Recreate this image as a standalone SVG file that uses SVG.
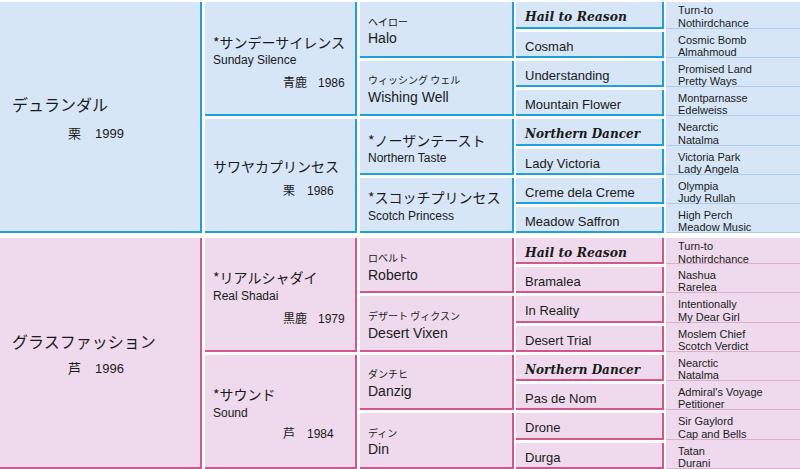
<svg xmlns="http://www.w3.org/2000/svg" width="800" height="469" viewBox="0 0 800 469">
<style>
.bf{fill:#d6e6f6}
.pf{fill:#eedaec}
.bb{fill:none;stroke:#1e9fe0;stroke-width:2}
.pb{fill:none;stroke:#d4568f;stroke-width:2}
.bs{stroke:#a9cdea;stroke-width:1}
.ps{stroke:#dbb0cc;stroke-width:1}
text{fill:#1a1a1a}
.jp{font-family:"Noto Sans CJK JP",sans-serif}
.en{font-family:"Liberation Sans",Arial,sans-serif}
.bi{font-family:"DejaVu Serif","Liberation Serif",serif;font-weight:bold;font-style:italic;font-size:13px}
.c1{font-size:16px}
.yr1{font-size:13px}
.c2{font-size:14px}
.c2e{font-size:12px}
.yr{font-size:12px}
.rd{font-size:10px}
.c3{font-size:14px}
.c4{font-size:13px}
.c5{font-size:11px}
</style>
<rect width="800" height="469" fill="#ffffff"/>

<!-- generation 1 -->
<g id="n-durandal">
<rect class="bf" x="0" y="2" width="202" height="231"/><path class="bb" d="M0 232H201V2"/>
<text class="jp c1" x="12" y="111">デュランダル</text>
<text class="jp yr1" x="68" y="138">栗<tspan class="en" x="95">1999</tspan></text>
</g>
<g id="n-grassfashion">
<rect class="pf" x="0" y="238" width="202" height="231"/><path class="pb" d="M0 468H201V238"/>
<text class="jp c1" x="12" y="348">グラスファッション</text>
<text class="jp yr1" x="68" y="373">芦<tspan class="en" x="95">1996</tspan></text>
</g>

<!-- generation 2 -->
<g id="n-sundaysilence">
<rect class="bf" x="205" y="2" width="152" height="114"/><path class="bb" d="M205 115H356V2"/>
<text class="jp c2" x="213" y="48">*サンデーサイレンス</text>
<text class="en c2e" x="213" y="64">Sunday Silence</text>
<text class="jp yr" x="283" y="87">青鹿<tspan class="en" x="318">1986</tspan></text>
</g>
<g id="n-sawayakaprincess">
<rect class="bf" x="205" y="119" width="152" height="114"/><path class="bb" d="M205 232H356V119"/>
<text class="jp c2" x="213" y="172">サワヤカプリンセス</text>
<text class="jp yr" x="283" y="195">栗<tspan class="en" x="307">1986</tspan></text>
</g>
<g id="n-realshadai">
<rect class="pf" x="205" y="238" width="152" height="114"/><path class="pb" d="M205 351H356V238"/>
<text class="jp c2" x="213" y="283">*リアルシャダイ</text>
<text class="en c2e" x="213" y="300">Real Shadai</text>
<text class="jp yr" x="283" y="323">黒鹿<tspan class="en" x="318">1979</tspan></text>
</g>
<g id="n-sound">
<rect class="pf" x="205" y="355" width="152" height="114"/><path class="pb" d="M205 468H356V355"/>
<text class="jp c2" x="213" y="400">*サウンド</text>
<text class="en c2e" x="213" y="417">Sound</text>
<text class="jp yr" x="283" y="438">芦<tspan class="en" x="307">1984</tspan></text>
</g>

<!-- generation 3 -->
<g id="n-halo">
<rect class="bf" x="360" y="2" width="154" height="56"/><path class="bb" d="M360 57H513V2"/>
<text class="jp rd" x="368" y="26">ヘイロー</text>
<text class="en c3" x="368" y="43">Halo</text>
</g>
<g id="n-wishingwell">
<rect class="bf" x="360" y="61" width="154" height="55"/><path class="bb" d="M360 115H513V61"/>
<text class="jp rd" x="368" y="84">ウィッシング ウェル</text>
<text class="en c3" x="368" y="102">Wishing Well</text>
</g>
<g id="n-northerntaste">
<rect class="bf" x="360" y="119" width="154" height="56"/><path class="bb" d="M360 174H513V119"/>
<text class="jp c3" x="368" y="146">*ノーザンテースト</text>
<text class="en c2e" x="368" y="162">Northern Taste</text>
</g>
<g id="n-scotchprincess">
<rect class="bf" x="360" y="178" width="154" height="55"/><path class="bb" d="M360 232H513V178"/>
<text class="jp c3" x="368" y="203">*スコッチプリンセス</text>
<text class="en c2e" x="368" y="220">Scotch Princess</text>
</g>
<g id="n-roberto">
<rect class="pf" x="360" y="238" width="154" height="55"/><path class="pb" d="M360 292H513V238"/>
<text class="jp rd" x="368" y="262">ロベルト</text>
<text class="en c3" x="368" y="280">Roberto</text>
</g>
<g id="n-desertvixen">
<rect class="pf" x="360" y="296" width="154" height="56"/><path class="pb" d="M360 351H513V296"/>
<text class="jp rd" x="368" y="320">デザート ヴィクスン</text>
<text class="en c3" x="368" y="338">Desert Vixen</text>
</g>
<g id="n-danzig">
<rect class="pf" x="360" y="355" width="154" height="55"/><path class="pb" d="M360 409H513V355"/>
<text class="jp rd" x="368" y="378">ダンチヒ</text>
<text class="en c3" x="368" y="396">Danzig</text>
</g>
<g id="n-din">
<rect class="pf" x="360" y="413" width="154" height="56"/><path class="pb" d="M360 468H513V413"/>
<text class="jp rd" x="368" y="437">ディン</text>
<text class="en c3" x="368" y="454">Din</text>
</g>

<!-- generation 4 -->
<g id="n-hailtoreason-1"><rect class="bf" x="516" y="2" width="148" height="27"/><path class="bb" d="M516 28H663V2"/><text class="bi" x="525" y="20.5" textLength="102" lengthAdjust="spacingAndGlyphs">Hail to Reason</text></g>
<g id="n-cosmah"><rect class="bf" x="516" y="32" width="148" height="26"/><path class="bb" d="M516 57H663V32"/><text class="en c4" x="525" y="50.5">Cosmah</text></g>
<g id="n-understanding"><rect class="bf" x="516" y="61" width="148" height="26"/><path class="bb" d="M516 86H663V61"/><text class="en c4" x="525" y="79.5">Understanding</text></g>
<g id="n-mountainflower"><rect class="bf" x="516" y="90" width="148" height="26"/><path class="bb" d="M516 115H663V90"/><text class="en c4" x="525" y="108.5">Mountain Flower</text></g>
<g id="n-northerndancer-1"><rect class="bf" x="516" y="119" width="148" height="27"/><path class="bb" d="M516 145H663V119"/><text class="bi" x="525" y="137.5" textLength="115" lengthAdjust="spacingAndGlyphs">Northern Dancer</text></g>
<g id="n-ladyvictoria"><rect class="bf" x="516" y="149" width="148" height="26"/><path class="bb" d="M516 174H663V149"/><text class="en c4" x="525" y="167.5">Lady Victoria</text></g>
<g id="n-cremedelacreme"><rect class="bf" x="516" y="178" width="148" height="26"/><path class="bb" d="M516 203H663V178"/><text class="en c4" x="525" y="196.5">Creme dela Creme</text></g>
<g id="n-meadowsaffron"><rect class="bf" x="516" y="207" width="148" height="26"/><path class="bb" d="M516 232H663V207"/><text class="en c4" x="525" y="225.5">Meadow Saffron</text></g>

<g id="n-hailtoreason-2"><rect class="pf" x="516" y="238" width="148" height="26"/><path class="pb" d="M516 263H663V238"/><text class="bi" x="525" y="256.5" textLength="102" lengthAdjust="spacingAndGlyphs">Hail to Reason</text></g>
<g id="n-bramalea"><rect class="pf" x="516" y="267" width="148" height="26"/><path class="pb" d="M516 292H663V267"/><text class="en c4" x="525" y="285.5">Bramalea</text></g>
<g id="n-inreality"><rect class="pf" x="516" y="296" width="148" height="27"/><path class="pb" d="M516 322H663V296"/><text class="en c4" x="525" y="314.5">In Reality</text></g>
<g id="n-deserttrial"><rect class="pf" x="516" y="326" width="148" height="26"/><path class="pb" d="M516 351H663V326"/><text class="en c4" x="525" y="344.5">Desert Trial</text></g>
<g id="n-northerndancer-2"><rect class="pf" x="516" y="355" width="148" height="26"/><path class="pb" d="M516 380H663V355"/><text class="bi" x="525" y="373.5" textLength="115" lengthAdjust="spacingAndGlyphs">Northern Dancer</text></g>
<g id="n-pasdenom"><rect class="pf" x="516" y="384" width="148" height="26"/><path class="pb" d="M516 409H663V384"/><text class="en c4" x="525" y="402.5">Pas de Nom</text></g>
<g id="n-drone"><rect class="pf" x="516" y="413" width="148" height="27"/><path class="pb" d="M516 439H663V413"/><text class="en c4" x="525" y="431.5">Drone</text></g>
<g id="n-durga"><rect class="pf" x="516" y="443" width="148" height="26"/><path class="pb" d="M516 468H663V443"/><text class="en c4" x="525" y="461.5">Durga</text></g>

<!-- generation 5 -->
<g id="n-g5-1"><rect class="bf" x="666" y="2" width="134" height="27"/><line class="bs" x1="666" y1="28.5" x2="800" y2="28.5"/><text class="en c5" x="678" y="13.5">Turn-to</text><text class="en c5" x="678" y="26.5">Nothirdchance</text></g>
<g id="n-g5-2"><rect class="bf" x="666" y="29" width="134" height="29"/><line class="bs" x1="666" y1="57.5" x2="800" y2="57.5"/><text class="en c5" x="678" y="43.5">Cosmic Bomb</text><text class="en c5" x="678" y="56">Almahmoud</text></g>
<g id="n-g5-3"><rect class="bf" x="666" y="58" width="134" height="29"/><line class="bs" x1="666" y1="86.5" x2="800" y2="86.5"/><text class="en c5" x="678" y="72.5">Promised Land</text><text class="en c5" x="678" y="85">Pretty Ways</text></g>
<g id="n-g5-4"><rect class="bf" x="666" y="87" width="134" height="29"/><line class="bs" x1="666" y1="115.5" x2="800" y2="115.5"/><text class="en c5" x="678" y="101.5">Montparnasse</text><text class="en c5" x="678" y="114">Edelweiss</text></g>
<g id="n-g5-5"><rect class="bf" x="666" y="116" width="134" height="30"/><line class="bs" x1="666" y1="145.5" x2="800" y2="145.5"/><text class="en c5" x="678" y="130.5">Nearctic</text><text class="en c5" x="678" y="143.5">Natalma</text></g>
<g id="n-g5-6"><rect class="bf" x="666" y="146" width="134" height="29"/><line class="bs" x1="666" y1="174.5" x2="800" y2="174.5"/><text class="en c5" x="678" y="160.5">Victoria Park</text><text class="en c5" x="678" y="173">Lady Angela</text></g>
<g id="n-g5-7"><rect class="bf" x="666" y="175" width="134" height="29"/><line class="bs" x1="666" y1="203.5" x2="800" y2="203.5"/><text class="en c5" x="678" y="189.5">Olympia</text><text class="en c5" x="678" y="202">Judy Rullah</text></g>
<g id="n-g5-8"><rect class="bf" x="666" y="204" width="134" height="29"/><line class="bs" x1="666" y1="232.5" x2="800" y2="232.5"/><text class="en c5" x="678" y="218.5">High Perch</text><text class="en c5" x="678" y="231">Meadow Music</text></g>

<g id="n-g5-9"><rect class="pf" x="666" y="238" width="134" height="26"/><line class="ps" x1="666" y1="263.5" x2="800" y2="263.5"/><text class="en c5" x="678" y="249.5">Turn-to</text><text class="en c5" x="678" y="262.5">Nothirdchance</text></g>
<g id="n-g5-10"><rect class="pf" x="666" y="264" width="134" height="29"/><line class="ps" x1="666" y1="292.5" x2="800" y2="292.5"/><text class="en c5" x="678" y="278.5">Nashua</text><text class="en c5" x="678" y="291">Rarelea</text></g>
<g id="n-g5-11"><rect class="pf" x="666" y="293" width="134" height="30"/><line class="ps" x1="666" y1="322.5" x2="800" y2="322.5"/><text class="en c5" x="678" y="307.5">Intentionally</text><text class="en c5" x="678" y="320.5">My Dear Girl</text></g>
<g id="n-g5-12"><rect class="pf" x="666" y="323" width="134" height="29"/><line class="ps" x1="666" y1="351.5" x2="800" y2="351.5"/><text class="en c5" x="678" y="337.5">Moslem Chief</text><text class="en c5" x="678" y="350">Scotch Verdict</text></g>
<g id="n-g5-13"><rect class="pf" x="666" y="352" width="134" height="29"/><line class="ps" x1="666" y1="380.5" x2="800" y2="380.5"/><text class="en c5" x="678" y="366.5">Nearctic</text><text class="en c5" x="678" y="379">Natalma</text></g>
<g id="n-g5-14"><rect class="pf" x="666" y="381" width="134" height="29"/><line class="ps" x1="666" y1="409.5" x2="800" y2="409.5"/><text class="en c5" x="678" y="395.5">Admiral's Voyage</text><text class="en c5" x="678" y="408">Petitioner</text></g>
<g id="n-g5-15"><rect class="pf" x="666" y="410" width="134" height="30"/><line class="ps" x1="666" y1="439.5" x2="800" y2="439.5"/><text class="en c5" x="678" y="424.5">Sir Gaylord</text><text class="en c5" x="678" y="437.5">Cap and Bells</text></g>
<g id="n-g5-16"><rect class="pf" x="666" y="440" width="134" height="29"/><line class="ps" x1="666" y1="468.5" x2="800" y2="468.5"/><text class="en c5" x="678" y="454.5">Tatan</text><text class="en c5" x="678" y="467">Durani</text></g>

<g id="connectors"/>
</svg>
